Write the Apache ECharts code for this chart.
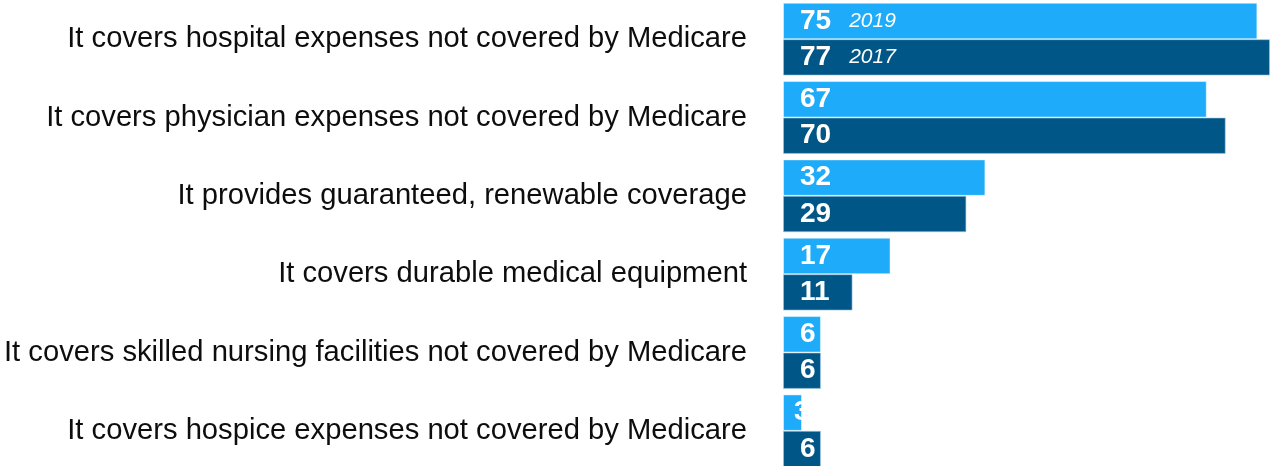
<!DOCTYPE html>
<html>
<head>
<meta charset="utf-8">
<script src="https://cdn.jsdelivr.net/npm/echarts@6/dist/echarts.min.js"></script>
<style>html,body{margin:0;padding:0;background:#fff;overflow:hidden;}#c{width:1271px;height:470px;}</style>
</head>
<body>
<div id="c"></div>
<script>
const categories = [
  "It covers hospital expenses not covered by Medicare",
  "It covers physician expenses not covered by Medicare",
  "It provides guaranteed, renewable coverage",
  "It covers durable medical equipment",
  "It covers skilled nursing facilities not covered by Medicare",
  "It covers hospice expenses not covered by Medicare"
];
const seriesNames = ["2019", "2017"];
const values2019 = [75, 67, 32, 17, 6, 3];
const values2017 = [77, 70, 29, 11, 6, 6];

const FONT = "'Liberation Sans', Arial, Helvetica, sans-serif";
const chart = echarts.init(document.getElementById('c'), null, {renderer: 'canvas'});

function makeLabel(name) {
  return {
    show: true,
    position: 'insideLeft',
    distance: 17,
    formatter: function (p) {
      if (p.dataIndex === 0) return '{v|' + p.value + '}{y|' + name + '}';
      return '{v|' + p.value + '}';
    },
    rich: {
      v: {fontFamily: FONT, fontWeight: 'bold', fontSize: 28, color: '#fff'},
      y: {fontFamily: FONT, fontStyle: 'italic', fontSize: 21, color: '#fff', padding: [0, 0, 0, 18]}
    }
  };
}

// very short bars: label sits a little further left, as in the source
function buildData(vals) {
  return vals.map(function (v) {
    return v < 5 ? {value: v, label: {distance: 11}} : v;
  });
}

chart.setOption({
  animation: false,
  grid: {left: 783, right: 1, top: 0, bottom: 0, containLabel: false},
  xAxis: {type: 'value', min: 0, max: 77, show: false},
  yAxis: {
    type: 'category', data: categories, inverse: true,
    axisLine: {show: false}, axisTick: {show: false}, splitLine: {show: false},
    axisLabel: {fontFamily: FONT, fontSize: 29.2, color: '#0d0d0d', margin: 36}
  },
  series: [
    {
      name: seriesNames[0], type: 'bar', data: buildData(values2019),
      barGap: '0%', barCategoryGap: '7%',
      itemStyle: {color: '#1EABF9', borderColor: 'rgba(255,255,255,0.45)', borderWidth: 1},
      label: makeLabel(seriesNames[0])
    },
    {
      name: seriesNames[1], type: 'bar', data: buildData(values2017),
      barGap: '0%', barCategoryGap: '7%',
      itemStyle: {color: '#005787', borderColor: 'rgba(160,200,230,0.6)', borderWidth: 1},
      label: makeLabel(seriesNames[1])
    }
  ]
});
</script>
</body>
</html>
